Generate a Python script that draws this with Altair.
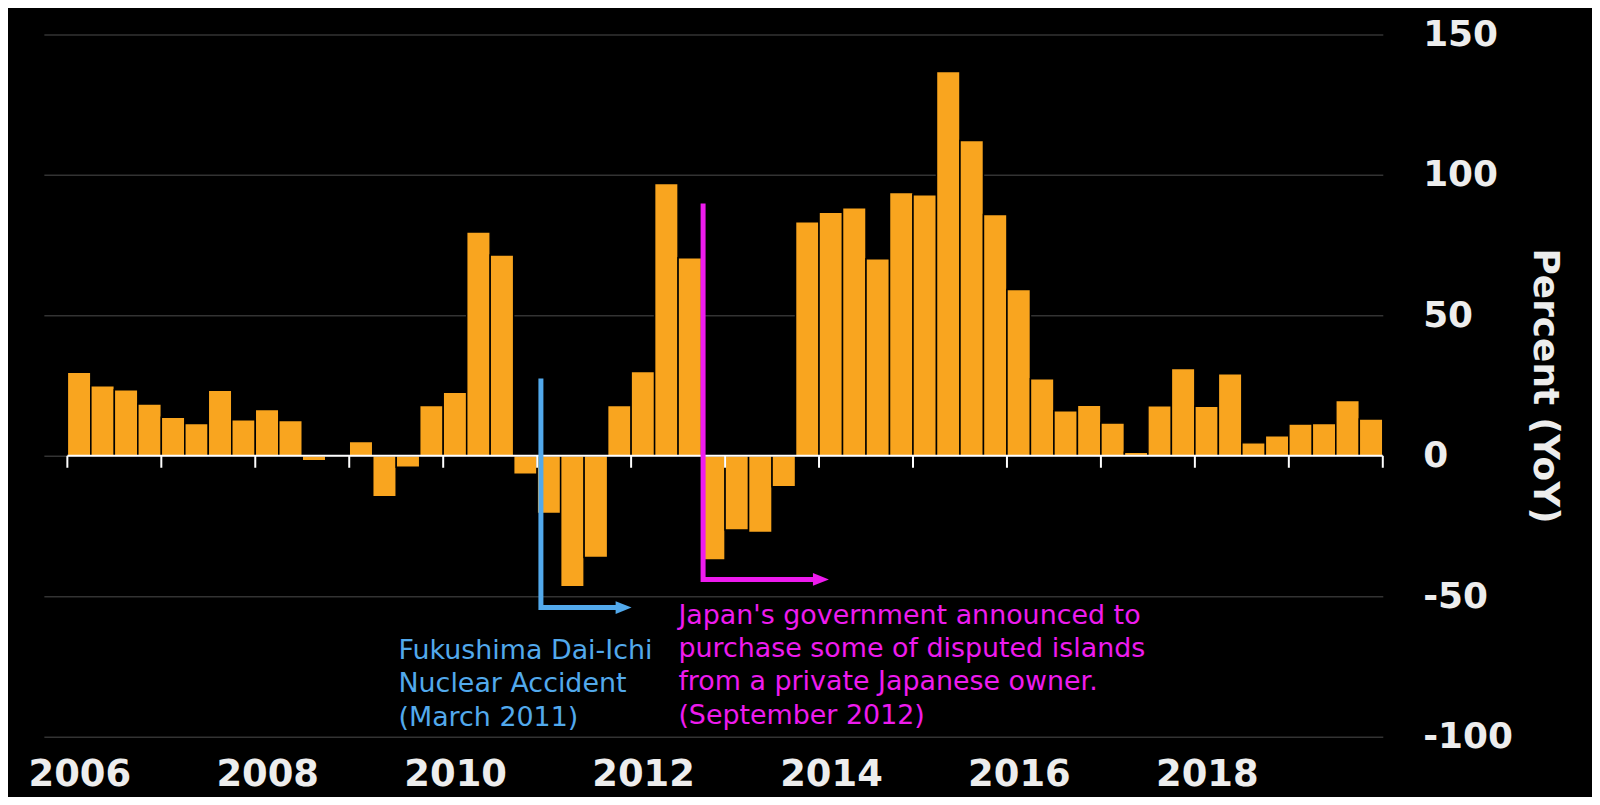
import altair as alt
import pandas as pd

# ---------------- data ----------------
years = list(range(2006, 2020))
quarters = [1, 2, 3, 4]
yoy = [29.7, 24.9, 23.5, 18.4,
       13.7, 11.5, 23.3, 12.8,
       16.5, 12.6, -1.8, 0.0,
       5.1, -14.6, -4.1, 17.9,
       22.6, 79.7, 71.5, -6.6,
       -20.5, -46.6, -36.2, 17.9,
       30.0, 96.9, 70.5, -37.1,
       -26.4, -27.3, -11.0, 83.3,
       86.7, 88.3, 70.1, 93.7,
       92.9, 136.8, 112.2, 85.9,
       59.2, 27.4, 16.0, 18.0,
       11.7, 1.3, 17.8, 31.1,
       17.6, 29.2, 4.6, 7.1,
       11.3, 11.5, 19.7, 13.1]

tick_years = list(range(2006, 2021))
label_years = list(range(2006, 2020, 2))
y_ticks = [-100, -50, 0, 50, 100, 150]

event_names = ["Fukushima", "Islands"]
event_colors = ["#52A9EC", "#EE1BEE"]
event_x = [2011.04, 2012.766]
event_top = [27.5, 89.8]
event_corner = [-54.0, -44.0]
event_head_x = [2011.92, 2014.02]
event_text_x = [2009.524, 2012.503]
event_text_y = [-72.3, -59.7]
event_text = [
    "Fukushima Dai-Ichi\nNuclear Accident\n(March 2011)",
    "Japan's government announced to\npurchase some of disputed islands\nfrom a private Japanese owner.\n(September 2012)",
]

# ---------------- tables ----------------
bars = pd.DataFrame({
    "period": [f"{y} Q{q}" for y in years for q in quarters],
    "start": [y + (q - 1) / 4 for y in years for q in quarters],
    "value": yoy,
})
bars["end"] = bars["start"] + 0.25

ticks_df = pd.DataFrame({"year": tick_years, "zero": [0] * len(tick_years)})
zero_df = pd.DataFrame({"a": [tick_years[0]], "b": [tick_years[-1]], "zero": [0]})

path_rows = []
for i, n in enumerate(event_names):
    path_rows += [
        {"event": n, "order": 0, "x": event_x[i], "y": event_top[i], "color": event_colors[i]},
        {"event": n, "order": 1, "x": event_x[i], "y": event_corner[i], "color": event_colors[i]},
        {"event": n, "order": 2, "x": event_head_x[i], "y": event_corner[i], "color": event_colors[i]},
    ]
paths = pd.DataFrame(path_rows)
heads = pd.DataFrame({"x": event_head_x, "y": event_corner, "color": event_colors})
texts = pd.DataFrame({"x": event_text_x, "y": event_text_y, "text": event_text, "color": event_colors})

# ---------------- scales / axes ----------------
x_scale = alt.Scale(domain=[2005.75, 2020], nice=False, zero=False)
y_scale = alt.Scale(domain=[-100, 150], nice=False, zero=False)

FONT = "DejaVu Sans"
TXT = "#EDEDED"

x_axis = alt.Axis(
    values=label_years, format="d", title=None, domain=False, ticks=False, tickSize=0,
    grid=False, labelFont=FONT, labelFontSize=37, labelFontWeight="bold", labelColor=TXT,
    labelPadding=49, labelBaseline="alphabetic", labelOffset=12, labelFlush=False,
    labelOverlap=False,
)
y_axis = alt.Axis(
    orient="right", values=y_ticks, title="Percent (YoY)", domain=False, ticks=False,
    tickSize=0, grid=True, gridColor="#333333", gridWidth=1.5,
    labelExpr="'' + datum.value",
    labelFont=FONT, labelFontSize=36, labelFontWeight="bold", labelColor=TXT,
    labelAlign="left", labelPadding=40, labelBaseline="middle",
    titleFont=FONT, titleFontSize=36, titleFontWeight="bold", titleColor=TXT,
    titleAngle=90, titleX=151, titleY=352.5, titleAlign="center",
    titleBaseline="alphabetic",
)

def X(field):
    return alt.X(field, type="quantitative", scale=x_scale, axis=x_axis)

def Y(field):
    return alt.Y(field, type="quantitative", scale=y_scale, axis=y_axis)

bar_layer = alt.Chart(bars).mark_bar(color="#F9A51F", stroke="#000000", strokeWidth=1.5).encode(
    x=X("start"), x2="end", y=Y("value"), y2=alt.datum(0),
)

zero_layer = alt.Chart(zero_df).mark_rule(color="#FFFFFF", strokeWidth=2).encode(
    x=X("a"), x2="b", y=Y("zero"),
)

tick_layer = alt.Chart(ticks_df).mark_rule(color="#FFFFFF", strokeWidth=2, y2Offset=12).encode(
    x=X("year"), y=Y("zero"), y2="zero",
)

path_layer = alt.Chart(paths).mark_line(strokeWidth=5, strokeJoin="miter", strokeCap="butt").encode(
    x=X("x"), y=Y("y"), detail="event:N", order="order:Q",
    color=alt.Color("color:N", scale=None),
)

head_layer = alt.Chart(heads).mark_point(
    shape="M-1,-0.8L1,0L-1,0.8Z", size=256, filled=True, opacity=1, strokeWidth=0,
).encode(
    x=X("x"), y=Y("y"), color=alt.Color("color:N", scale=None),
)

text_layer = alt.Chart(texts).mark_text(
    align="left", baseline="alphabetic", font=FONT, fontSize=27, lineBreak="\n", lineHeight=33.5,
).encode(
    x=X("x"), y=Y("y"), text="text:N", color=alt.Color("color:N", scale=None),
)

chart = alt.layer(
    bar_layer, zero_layer, tick_layer, path_layer, head_layer, text_layer
).properties(
    width=1344, height=705,
    padding={"left": 36, "top": 25, "right": 210, "bottom": 59},
    autosize=alt.AutoSizeParams(type="none"),
    background="#000000",
).configure_view(stroke=None)

chart.save("out.html", embed_options={"renderer": "svg", "actions": False})
